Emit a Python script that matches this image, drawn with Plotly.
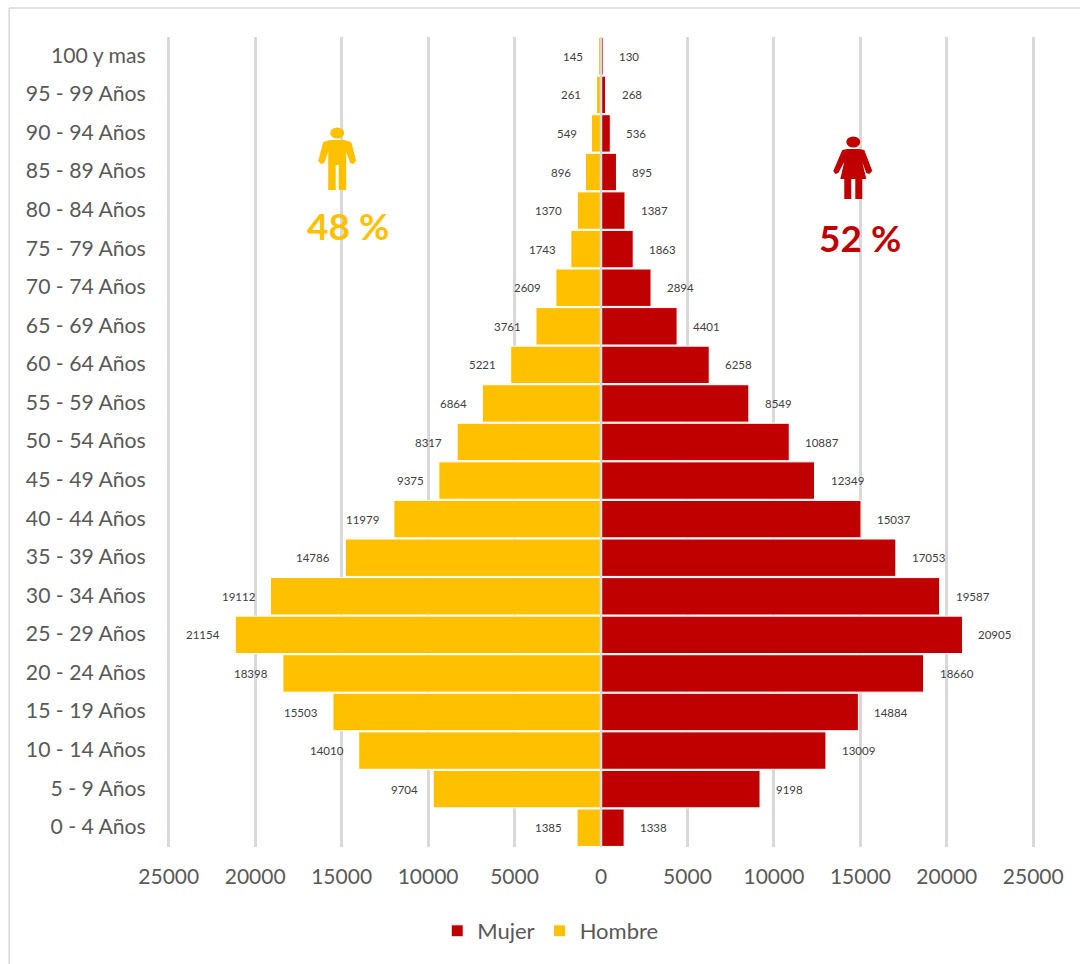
import plotly.graph_objects as go

categories = ["0 - 4 Años", "5 - 9 Años", "10 - 14 Años", "15 - 19 Años", "20 - 24 Años",
              "25 - 29 Años", "30 - 34 Años", "35 - 39 Años", "40 - 44 Años", "45 - 49 Años",
              "50 - 54 Años", "55 - 59 Años", "60 - 64 Años", "65 - 69 Años", "70 - 74 Años",
              "75 - 79 Años", "80 - 84 Años", "85 - 89 Años", "90 - 94 Años", "95 - 99 Años",
              "100 y mas"]
mujer = [1338, 9198, 13009, 14884, 18660, 20905, 19587, 17053, 15037, 12349, 10887,
         8549, 6258, 4401, 2894, 1863, 1387, 895, 536, 268, 130]
hombre = [1385, 9704, 14010, 15503, 18398, 21154, 19112, 14786, 11979, 9375, 8317,
          6864, 5221, 3761, 2609, 1743, 1370, 896, 549, 261, 145]
tick_values = [-25000, -20000, -15000, -10000, -5000, 0, 5000, 10000, 15000, 20000, 25000]
tick_labels = ["25000", "20000", "15000", "10000", "5000", "0", "5000", "10000", "15000", "20000", "25000"]

W, H = 1080, 964
L, R, T, B = 166.8, 1034.7, 37, 847
RED, GOLD, GRID, TXT = "#C00000", "#FFC000", "#D9D9D9", "#595959"
FONT = "Lato"

def px(x):
    return (x - L) / (R - L)
def py(y):
    return (B - y) / (B - T)
def path(points):
    return "M" + " L".join(f"{px(x):.5f},{py(y):.5f}" for x, y in points) + " Z"

man = [(323, 142), (330, 140), (344, 140), (351, 142), (356, 161), (353, 164), (350, 163),
       (346, 152), (346, 190), (338.5, 190), (338.5, 165), (335.5, 165), (335.5, 190),
       (328, 190), (328, 152), (324, 163), (321, 164), (318, 161)]
woman = [(842, 150), (847, 149), (859, 149), (864, 150), (872, 171), (869, 174), (866, 173),
         (862, 162), (866, 179), (862, 179), (862, 199), (855, 199), (855, 179), (851, 179),
         (851, 199), (844, 199), (844, 179), (840, 179), (844, 162), (838, 173), (835, 174), (833, 171)]

fig = go.Figure()
fig.add_bar(name="Mujer", y=categories, x=mujer, orientation="h",
            marker=dict(color=RED, line=dict(color="white", width=1)))
fig.add_bar(name="Hombre", y=categories, x=[-v for v in hombre], orientation="h",
            marker=dict(color=GOLD, line=dict(color="white", width=1)))

for c, m, h in zip(categories, mujer, hombre):
    fig.add_annotation(x=m, y=c, text=str(m), xanchor="left", xshift=14, yshift=0,
                       showarrow=False, font=dict(size=11.5, color="#404040", family=FONT))
    fig.add_annotation(x=-h, y=c, text=str(h), xanchor="right", xshift=-13, yshift=0,
                       showarrow=False, font=dict(size=11.5, color="#404040", family=FONT))

fig.add_annotation(xref="paper", yref="paper", x=px(348), y=py(226), text="<b>48 %</b>", showarrow=False,
                   xanchor="center", yanchor="middle", font=dict(size=37, color=GOLD, family=FONT))
fig.add_annotation(xref="paper", yref="paper", x=px(860), y=py(237), text="<b>52 %</b>", showarrow=False,
                   xanchor="center", yanchor="middle", font=dict(size=37, color=RED, family=FONT))

def ell(cx, cy, rx, ry, color):
    return dict(type="circle", xref="paper", yref="paper", x0=px(cx - rx), x1=px(cx + rx),
                y0=py(cy + ry), y1=py(cy - ry), fillcolor=color, line_width=0, layer="above")

shapes = [
    dict(type="line", xref="x", yref="paper", x0=0, x1=0, y0=0, y1=1, line=dict(color=GRID, width=2.5), layer="above"),
    dict(type="path", xref="paper", yref="paper", path=path(man), fillcolor=GOLD, line_width=0, layer="above"),
    ell(337, 133, 7, 5.5, GOLD),
    dict(type="path", xref="paper", yref="paper", path=path(woman), fillcolor=RED, line_width=0, layer="above"),
    ell(853, 142, 7, 5.5, RED),
    dict(type="line", xref="paper", yref="paper", x0=px(9), x1=px(9), y0=py(8), y1=py(964), line=dict(color=GRID, width=1.5), layer="above"),
    dict(type="line", xref="paper", yref="paper", x0=px(9), x1=px(1080), y0=py(8), y1=py(8), line=dict(color=GRID, width=1.5), layer="above"),
]

fig.update_layout(
    width=W, height=H, autosize=False,
    margin=dict(l=L, r=W - R, t=T, b=H - B, pad=0),
    paper_bgcolor="white", plot_bgcolor="white",
    barmode="relative", bargap=0.03,
    font=dict(family=FONT, color=TXT, size=20.5),
    showlegend=True,
    legend=dict(orientation="h", x=px(437), xanchor="left", y=py(931), yanchor="middle",
                font=dict(size=22, color=TXT), traceorder="normal"),
    xaxis=dict(range=[-25100, 25100], tickmode="array", tickvals=tick_values, ticktext=tick_labels,
               showgrid=True, gridcolor=GRID, gridwidth=2.5, zeroline=False, showline=False,
               ticks="outside", ticklen=11, tickcolor="rgba(0,0,0,0)", tickfont=dict(size=21, color=TXT)),
    yaxis=dict(categoryorder="array", categoryarray=categories, range=[-0.5, 20.5], showgrid=False,
               zeroline=False, showline=False, ticks="outside", ticklen=16, tickcolor="rgba(0,0,0,0)",
               tickfont=dict(size=21.2, color=TXT), ticklabelshift=-1),
    shapes=shapes,
)
fig.write_html("out.html", config=dict(displayModeBar=False),
               post_script="document.body.style.margin='0';document.documentElement.style.overflow='hidden';")
